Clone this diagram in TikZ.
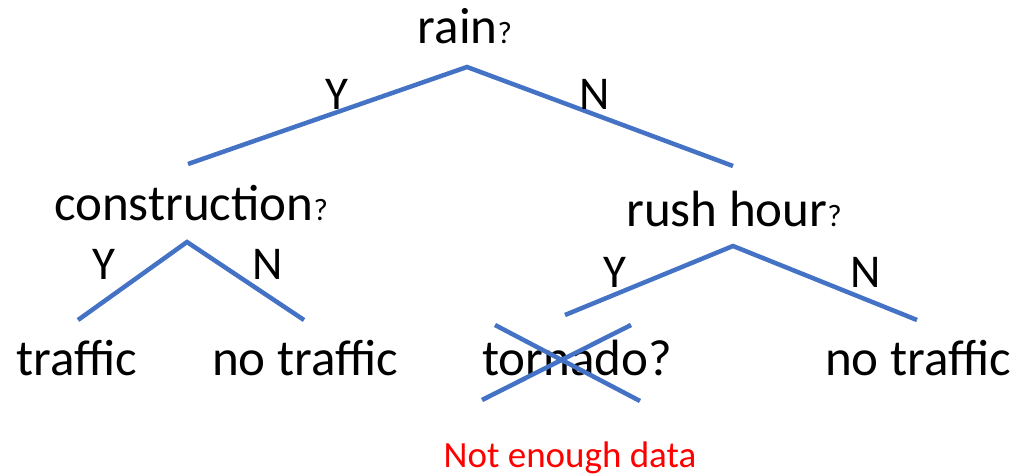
\documentclass[tikz,border=0pt]{standalone}
\usepackage{fontspec}
\setmainfont{Carlito}
\begin{document}
\begin{tikzpicture}[x=1pt,y=-1pt,
  lbl/.style={inner sep=0pt,anchor=base,font=\fontsize{51}{56}\selectfont},
  yn/.style={inner sep=0pt,font=\fontsize{47}{52}\selectfont},
  branch/.style={line width=4.5pt,color={rgb,255:red,68;green,114;blue,196}}]
\useasboundingbox (0,0) rectangle (1017,476);
\newcommand{\smallq}{{\fontsize{31}{33}\selectfont ?}}
% questions and leaves
\node[lbl] (rain) at (465,44) {rain\smallq};
\node[lbl] (constr) at (191,220) {construction\smallq};
\node[lbl] (rush) at (734,226) {rush hour\smallq};
\node[lbl] (traffic) at (77,375) {traffic};
\node[lbl] (notraffic1) at (305,375) {no traffic};
\node[lbl] (tornado) at (577,375) {tornado?};
\node[lbl] (notraffic2) at (918,375) {no traffic};
\node[inner sep=0pt,anchor=base,text={rgb,255:red,255;green,0;blue,0},font=\fontsize{37}{40}\selectfont] (nodata) at (570,467) {Not enough data};
% branch end points
\coordinate (rainB) at (467,67);
\coordinate (constrT) at (188,164);
\coordinate (rushT) at (733,166);
\coordinate (constrB) at (187,242);
\coordinate (trafficT) at (78,320);
\coordinate (notraffic1T) at (304,320);
\coordinate (rushB) at (733,246);
\coordinate (tornadoT) at (565,315);
\coordinate (notraffic2T) at (917,320);
\draw[branch] (constrT) -- (rainB) -- (rushT);
\draw[branch] (trafficT) -- (constrB) -- (notraffic1T);
\draw[branch] (tornadoT) -- (rushB) -- (notraffic2T);
% branch labels
\node[yn] (y1) at (337,94) {Y};
\node[yn] (n1) at (595,94) {N};
\node[yn] (y2) at (104,264) {Y};
\node[yn] (n2) at (268,264) {N};
\node[yn] (y3) at (615,272) {Y};
\node[yn] (n3) at (866,272) {N};
% cross over the pruned question
\coordinate (xa) at (495,325);
\coordinate (xb) at (640,401);
\coordinate (xc) at (482,400);
\coordinate (xd) at (631,325);
\draw[branch] (xa) -- (xb);
\draw[branch] (xc) -- (xd);
\end{tikzpicture}
\end{document}
